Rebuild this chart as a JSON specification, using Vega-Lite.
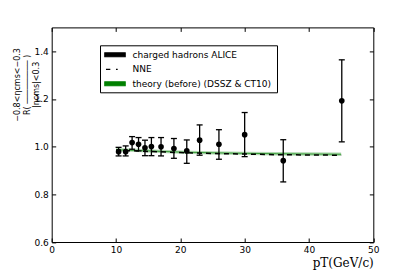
{
  "$schema": "https://vega.github.io/schema/vega-lite/v6.json",
  "width": 321.6,
  "height": 214.6,
  "autosize": {"type": "none"},
  "padding": {"left": 51.7, "top": 27.4, "right": 41.7, "bottom": 35},
  "background": "white",
  "config": {
    "view": {"stroke": "black", "strokeWidth": 1},
    "axis": {
      "domain": false,
      "grid": false,
      "labelFont": "DejaVu Sans",
      "labelFontSize": 9,
      "labelColor": "black",
      "tickColor": "black",
      "tickSize": -4,
      "tickWidth": 1,
      "labelPadding": 7.4,
      "labelFlush": false,
      "labelOverlap": false
    }
  },
  "datasets": {
    "pts": [
      {"x": 10.4, "y": 0.979, "lo": 0.961, "hi": 0.997},
      {"x": 11.5, "y": 0.979, "lo": 0.961, "hi": 1.003},
      {"x": 12.5, "y": 1.017, "lo": 0.989, "hi": 1.042},
      {"x": 13.5, "y": 1.010, "lo": 0.982, "hi": 1.038},
      {"x": 14.5, "y": 0.995, "lo": 0.962, "hi": 1.027},
      {"x": 15.5, "y": 1.000, "lo": 0.962, "hi": 1.038},
      {"x": 17.0, "y": 0.999, "lo": 0.961, "hi": 1.038},
      {"x": 19.0, "y": 0.992, "lo": 0.951, "hi": 1.034},
      {"x": 21.0, "y": 0.982, "lo": 0.930, "hi": 1.028},
      {"x": 23.0, "y": 1.027, "lo": 0.964, "hi": 1.091},
      {"x": 26.0, "y": 1.010, "lo": 0.947, "hi": 1.071},
      {"x": 30.0, "y": 1.050, "lo": 0.958, "hi": 1.143},
      {"x": 36.0, "y": 0.941, "lo": 0.852, "hi": 1.029},
      {"x": 45.1, "y": 1.192, "lo": 1.020, "hi": 1.364}
    ],
    "th": [
      {"x": 10, "lo": 0.980, "hi": 0.994, "mid": 0.987, "nne": 0.985},
      {"x": 12, "lo": 0.978, "hi": 0.992, "mid": 0.985, "nne": 0.983},
      {"x": 15, "lo": 0.975, "hi": 0.989, "mid": 0.982, "nne": 0.980},
      {"x": 20, "lo": 0.970, "hi": 0.984, "mid": 0.977, "nne": 0.975},
      {"x": 25, "lo": 0.967, "hi": 0.981, "mid": 0.974, "nne": 0.971},
      {"x": 30, "lo": 0.965, "hi": 0.979, "mid": 0.972, "nne": 0.969},
      {"x": 35, "lo": 0.963, "hi": 0.977, "mid": 0.970, "nne": 0.966},
      {"x": 40, "lo": 0.962, "hi": 0.976, "mid": 0.969, "nne": 0.965},
      {"x": 45, "lo": 0.961, "hi": 0.975, "mid": 0.968, "nne": 0.964}
    ],
    "leg": [
      {"series": "charged hadrons ALICE"},
      {"series": "NNE"},
      {"series": "theory (before)  (DSSZ & CT10)"}
    ]
  },
  "layer": [
    {
      "data": {"name": "th"},
      "mark": {"type": "area", "color": "#008000", "opacity": 0.3},
      "encoding": {
        "x": {
          "field": "x", "type": "quantitative",
          "scale": {"domain": [0, 50], "nice": false, "zero": false},
          "axis": {
            "orient": "bottom",
            "values": [0, 10, 20, 30, 40, 50],
            "title": "pT(GeV/c)",
            "titleFont": "DejaVu Serif",
            "titleFontSize": 12,
            "titleFontWeight": "normal",
            "titleColor": "black",
            "titleAnchor": "end",
            "titleAlign": "right",
            "titleBaseline": "middle",
            "titleX": 321.6,
            "titleY": 20
          }
        },
        "y": {
          "field": "lo", "type": "quantitative",
          "scale": {"domain": [0.6, 1.5], "nice": false, "zero": false},
          "axis": {
            "orient": "left",
            "values": [0.6, 0.8, 1.0, 1.2, 1.4],
            "format": ".1f",
            "title": ["−0.8<ηcms<−0.3", "R(  ─────────  )", "|ηcms|<0.3"],
            "titleFont": "DejaVu Sans",
            "titleFontSize": 8,
            "titleLineHeight": 9.5,
            "titleFontWeight": "normal",
            "titleColor": "black",
            "titleAngle": -90,
            "titleAlign": "center",
            "titleBaseline": "middle",
            "titleX": -34,
            "titleY": 57
          }
        },
        "y2": {"field": "hi"}
      }
    },
    {
      "data": {"name": "th"},
      "mark": {"type": "line", "color": "#008000", "strokeWidth": 1, "opacity": 0.7},
      "encoding": {
        "x": {"field": "x", "type": "quantitative",
          "axis": {"orient": "top", "values": [0, 10, 20, 30, 40, 50], "labels": false, "title": null}},
        "y": {"field": "mid", "type": "quantitative",
          "axis": {"orient": "right", "values": [0.6, 0.8, 1.0, 1.2, 1.4], "labels": false, "title": null}}
      }
    },
    {
      "data": {"name": "th"},
      "mark": {"type": "line", "color": "black", "strokeWidth": 1.5, "strokeDash": [5, 4]},
      "encoding": {
        "x": {"field": "x", "type": "quantitative", "axis": null},
        "y": {"field": "nne", "type": "quantitative", "axis": null}
      }
    },
    {
      "data": {"name": "pts"},
      "mark": {"type": "rule", "color": "black", "strokeWidth": 1.3},
      "encoding": {
        "x": {"field": "x", "type": "quantitative", "axis": null},
        "y": {"field": "lo", "type": "quantitative", "axis": null},
        "y2": {"field": "hi"}
      }
    },
    {
      "data": {"name": "pts"},
      "mark": {"type": "tick", "orient": "horizontal", "color": "black", "size": 6, "thickness": 1.3, "opacity": 1},
      "encoding": {
        "x": {"field": "x", "type": "quantitative", "axis": null},
        "y": {"field": "lo", "type": "quantitative", "axis": null}
      }
    },
    {
      "data": {"name": "pts"},
      "mark": {"type": "tick", "orient": "horizontal", "color": "black", "size": 6, "thickness": 1.3, "opacity": 1},
      "encoding": {
        "x": {"field": "x", "type": "quantitative", "axis": null},
        "y": {"field": "hi", "type": "quantitative", "axis": null}
      }
    },
    {
      "data": {"name": "pts"},
      "mark": {"type": "circle", "color": "black", "size": 32, "opacity": 1},
      "encoding": {
        "x": {"field": "x", "type": "quantitative", "axis": null},
        "y": {"field": "y", "type": "quantitative", "axis": null}
      }
    },
    {
      "data": {"name": "leg"},
      "transform": [{"filter": "datum.series == 'none'"}],
      "mark": {"type": "point", "filled": true, "opacity": 1},
      "encoding": {
        "color": {
          "field": "series", "type": "nominal",
          "scale": {
            "domain": ["charged hadrons ALICE", "NNE", "theory (before)  (DSSZ & CT10)"],
            "range": ["black", "black", "#008000"]
          },
          "legend": {
            "title": null,
            "orient": "none",
            "direction": "vertical",
            "legendX": 48.3,
            "legendY": 17.9,
            "strokeColor": "black",
            "fillColor": "white",
            "padding": 3,
            "cornerRadius": 0,
            "symbolSize": 121,
            "symbolOffset": 5.5,
            "labelOffset": 11,
            "labelAlign": "left",
            "labelFont": "DejaVu Sans",
            "labelFontSize": 9,
            "labelColor": "black",
            "labelLimit": 300,
            "rowPadding": 2.5,
            "symbolStrokeWidth": 1.2,
            "symbolOpacity": 1,
            "encode": {
              "symbols": {
                "update": {
                  "stroke": {"scale": "color", "field": "value"},
                  "fill": {"scale": "color", "field": "value"}
                }
              }
            }
          }
        },
        "shape": {
          "field": "series", "type": "nominal",
          "scale": {
            "domain": ["charged hadrons ALICE", "NNE", "theory (before)  (DSSZ & CT10)"],
            "range": [
              "M-1.85,-0.35H1.85V0.35H-1.85Z",
              "M-1.64,0H-0.85M0.18,0H0.49",
              "M-1.85,-0.35H1.85V0.35H-1.85Z"
            ]
          }
        }
      }
    }
  ]
}
